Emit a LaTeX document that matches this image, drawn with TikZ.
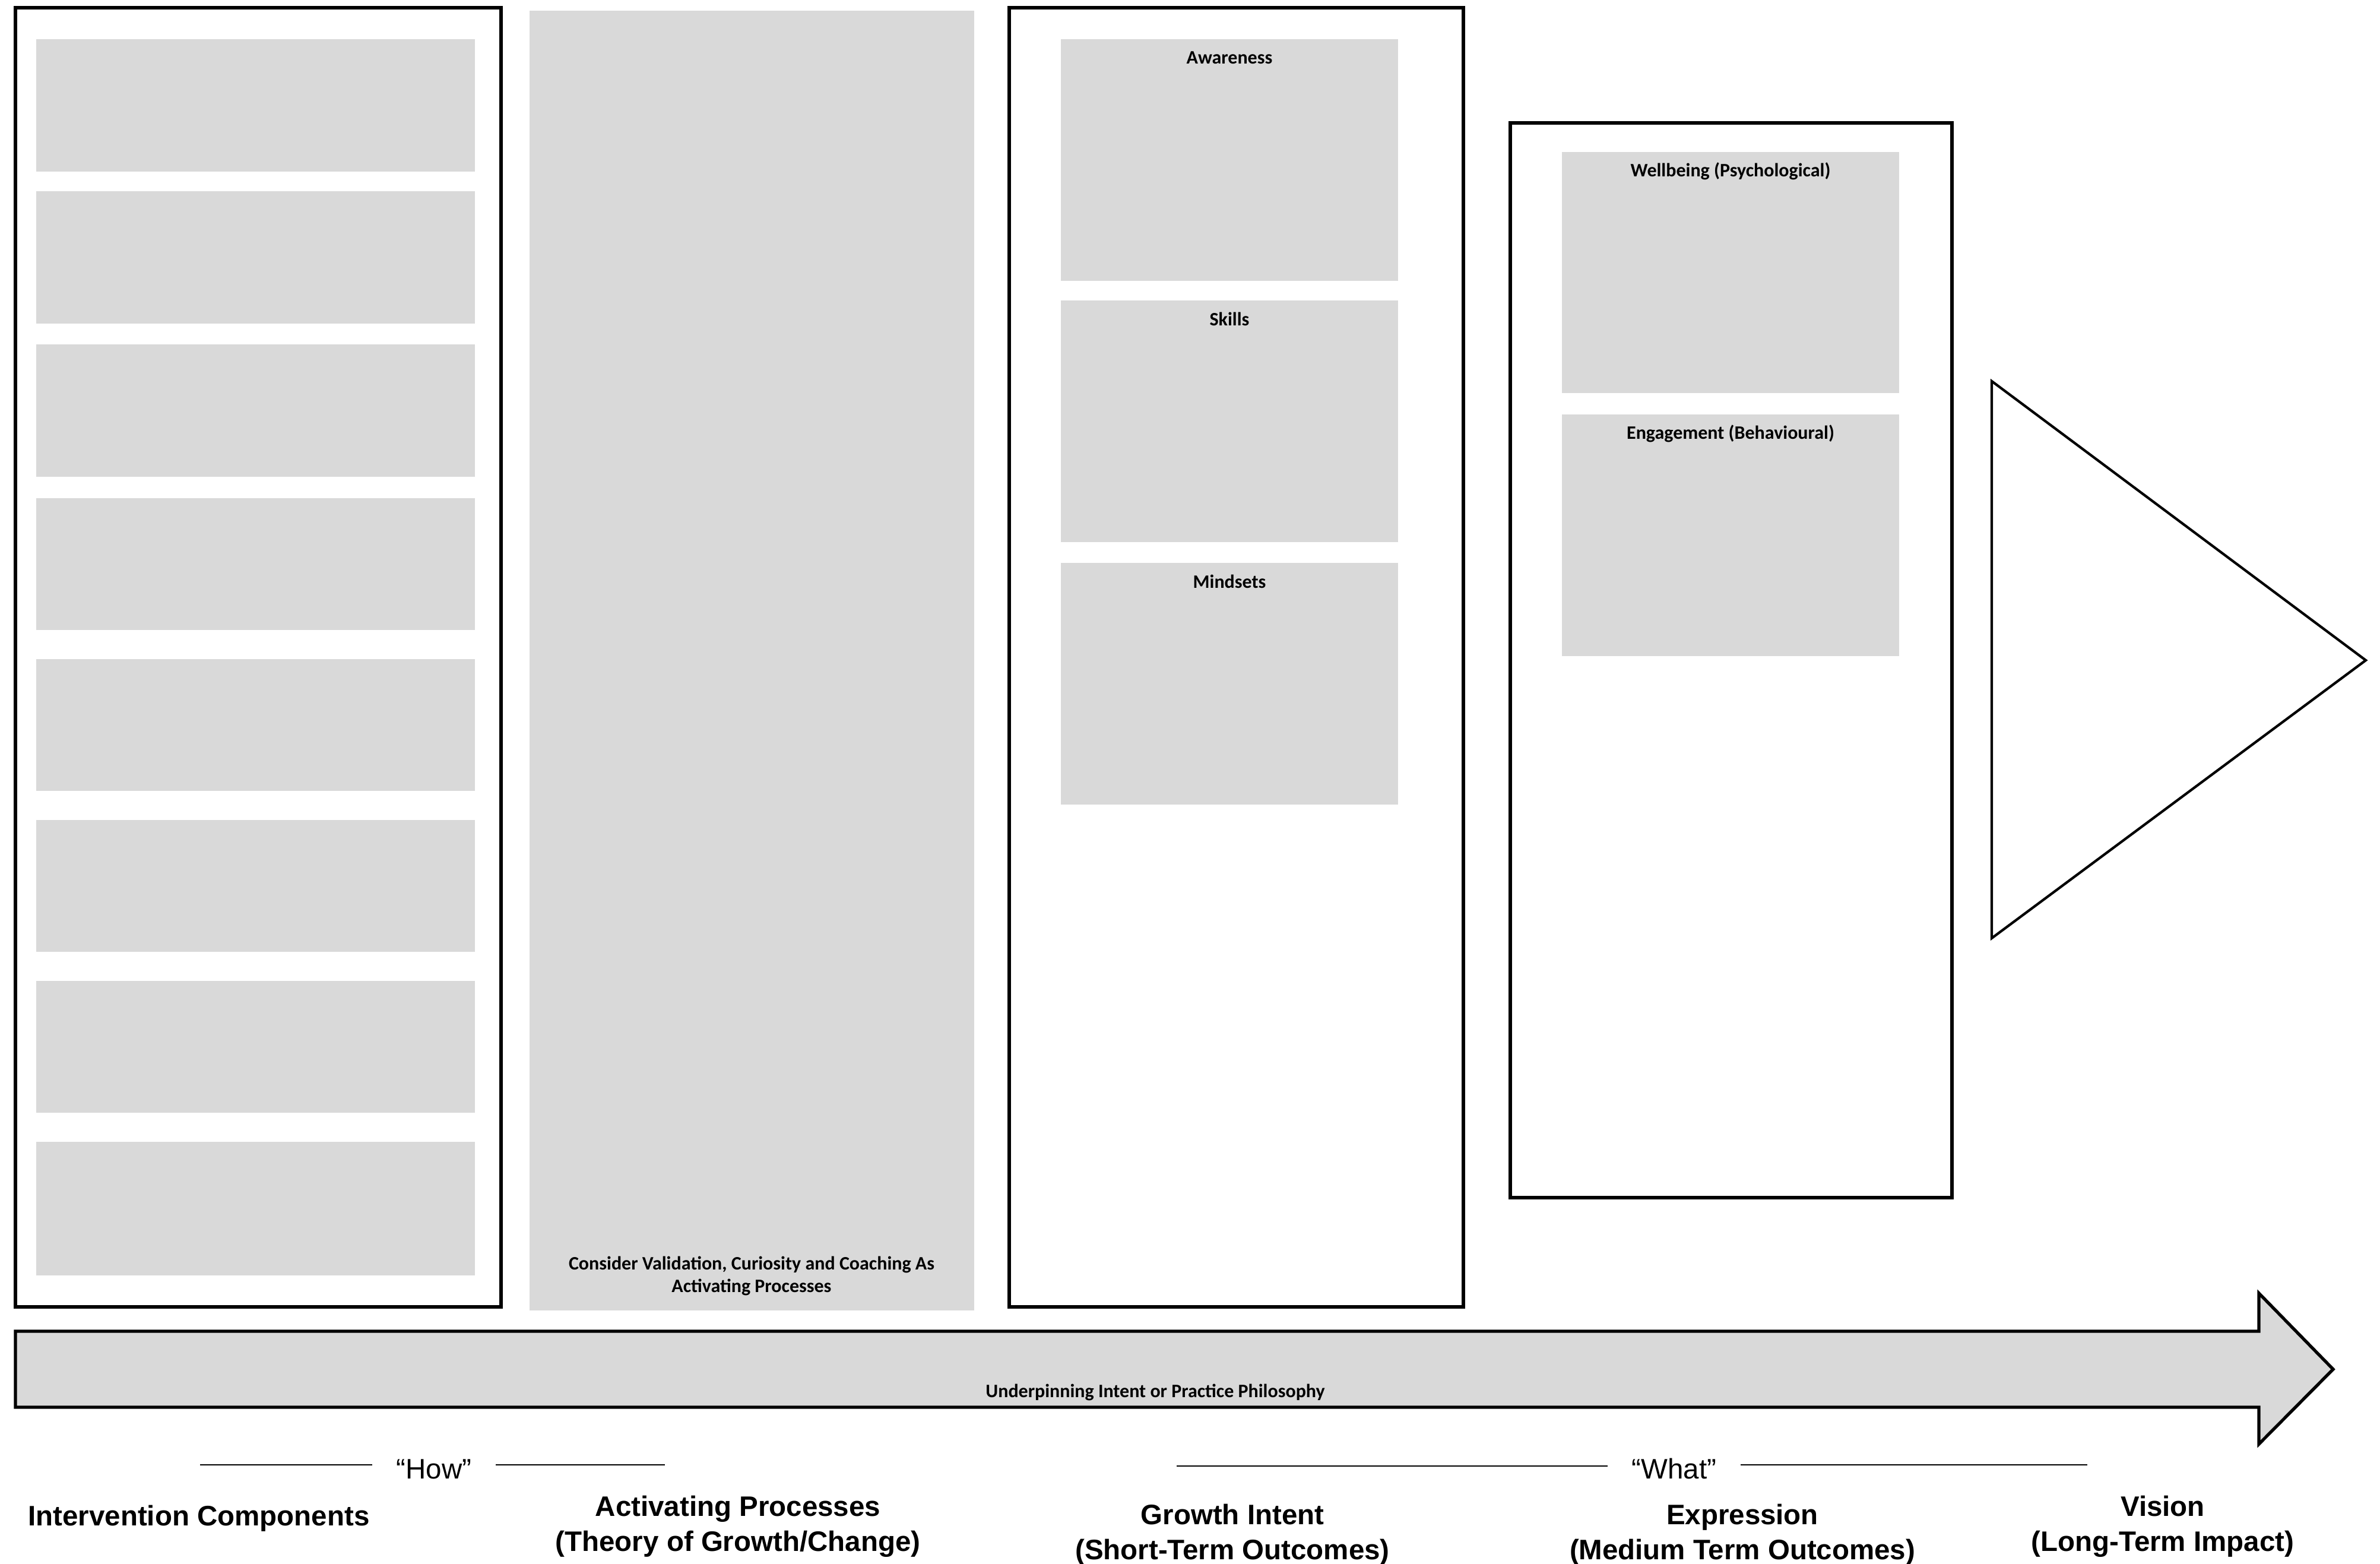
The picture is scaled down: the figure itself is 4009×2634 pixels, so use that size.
\documentclass[tikz,border=0pt]{standalone}
\usepackage{fontspec}
\setmainfont{Liberation Sans}
\newfontfamily\calibri{Carlito}
\definecolor{cellgray}{HTML}{D9D9D9}

\begin{document}
\begin{tikzpicture}[x=0.01cm,y=-0.01cm]
    \tikzstyle{panel}=[line width=1.5pt]
    \tikzstyle{cell}=[fill=cellgray]
    \tikzstyle{celltext}=[font=\calibri\bfseries\fontsize{9.1}{10.9}\selectfont, align=center]
    \tikzstyle{heading}=[font=\bfseries\fontsize{13.5}{16.7}\selectfont, align=center]
    \tikzstyle{quote}=[font=\fontsize{13.5}{16}\selectfont, inner xsep=0.4cm]
    \tikzstyle{rule}=[line width=0.8pt]

    \useasboundingbox (0,0) rectangle (4009,2634);

    % intervention components
    \draw[panel] (26,13) rectangle (844,2201);
    \fill[cell] (61,66) rectangle (800,289);
    \fill[cell] (61,322) rectangle (800,545);
    \fill[cell] (61,580) rectangle (800,803);
    \fill[cell] (61,839) rectangle (800,1061);
    \fill[cell] (61,1110) rectangle (800,1332);
    \fill[cell] (61,1381) rectangle (800,1603);
    \fill[cell] (61,1652) rectangle (800,1874);
    \fill[cell] (61,1923) rectangle (800,2148);

    % activating processes
    \fill[cell] (892,18) rectangle (1641,2207);
    \node[celltext] (consider) at (1266,2149) {Consider Validation, Curiosity and Coaching As\\Activating Processes};

    % growth intent
    \draw[panel] (1700,13) rectangle (2465,2201);
    \fill[cell] (1787,66) rectangle (2355,473);
    \node[celltext] (awareness) at (2071,97) {Awareness};
    \fill[cell] (1787,506) rectangle (2355,913);
    \node[celltext] (skills) at (2071,537) {Skills};
    \fill[cell] (1787,948) rectangle (2355,1355);
    \node[celltext] (mindsets) at (2071,979) {Mindsets};

    % expression
    \draw[panel] (2544,207) rectangle (3288,2017);
    \fill[cell] (2631,256) rectangle (3199,662);
    \node[celltext] (wellbeing) at (2915,288) {Wellbeing (Psychological)};
    \fill[cell] (2631,698) rectangle (3199,1105);
    \node[celltext] (engagement) at (2915,730) {Engagement (Behavioural)};

    % vision
    \draw[line width=1.2pt, line join=miter] (3355,642) -- (3985,1112) -- (3355,1580) -- cycle;

    % underpinning arrow
    \draw[panel, fill=cellgray] (26,2242) -- (3805,2242) -- (3805,2178) -- (3930,2306)
        -- (3805,2432) -- (3805,2370) -- (26,2370) -- cycle;
    \node[celltext] (philosophy) at (1946,2345) {Underpinning Intent or Practice Philosophy};

    % how / what
    \node[quote] (how) at (731,2474) {“How”};
    \coordinate (howl) at (337,2467);
    \coordinate (howr) at (1120,2467);
    \draw[rule] (howl) -- (howl -| how.west);
    \draw[rule] (howr -| how.east) -- (howr);

    \node[quote] (what) at (2820,2474) {“What”};
    \coordinate (whatl) at (1982,2469);
    \coordinate (whatr) at (3516,2467);
    \draw[rule] (whatl) -- (whatl -| what.west);
    \draw[rule] (whatr -| what.east) -- (whatr);

    % headings
    \node[heading] (components) at (335,2557) {Intervention Components};
    \node[heading] (activating) at (1243,2571) {Activating Processes\\(Theory of Growth/Change)};
    \node[heading] (growth) at (2076,2585) {Growth Intent\\(Short-Term Outcomes)};
    \node[heading] (expression) at (2935,2585) {Expression\\(Medium Term Outcomes)};
    \node[heading] (vision) at (3643,2571) {Vision\\(Long-Term Impact)};
\end{tikzpicture}
\end{document}
